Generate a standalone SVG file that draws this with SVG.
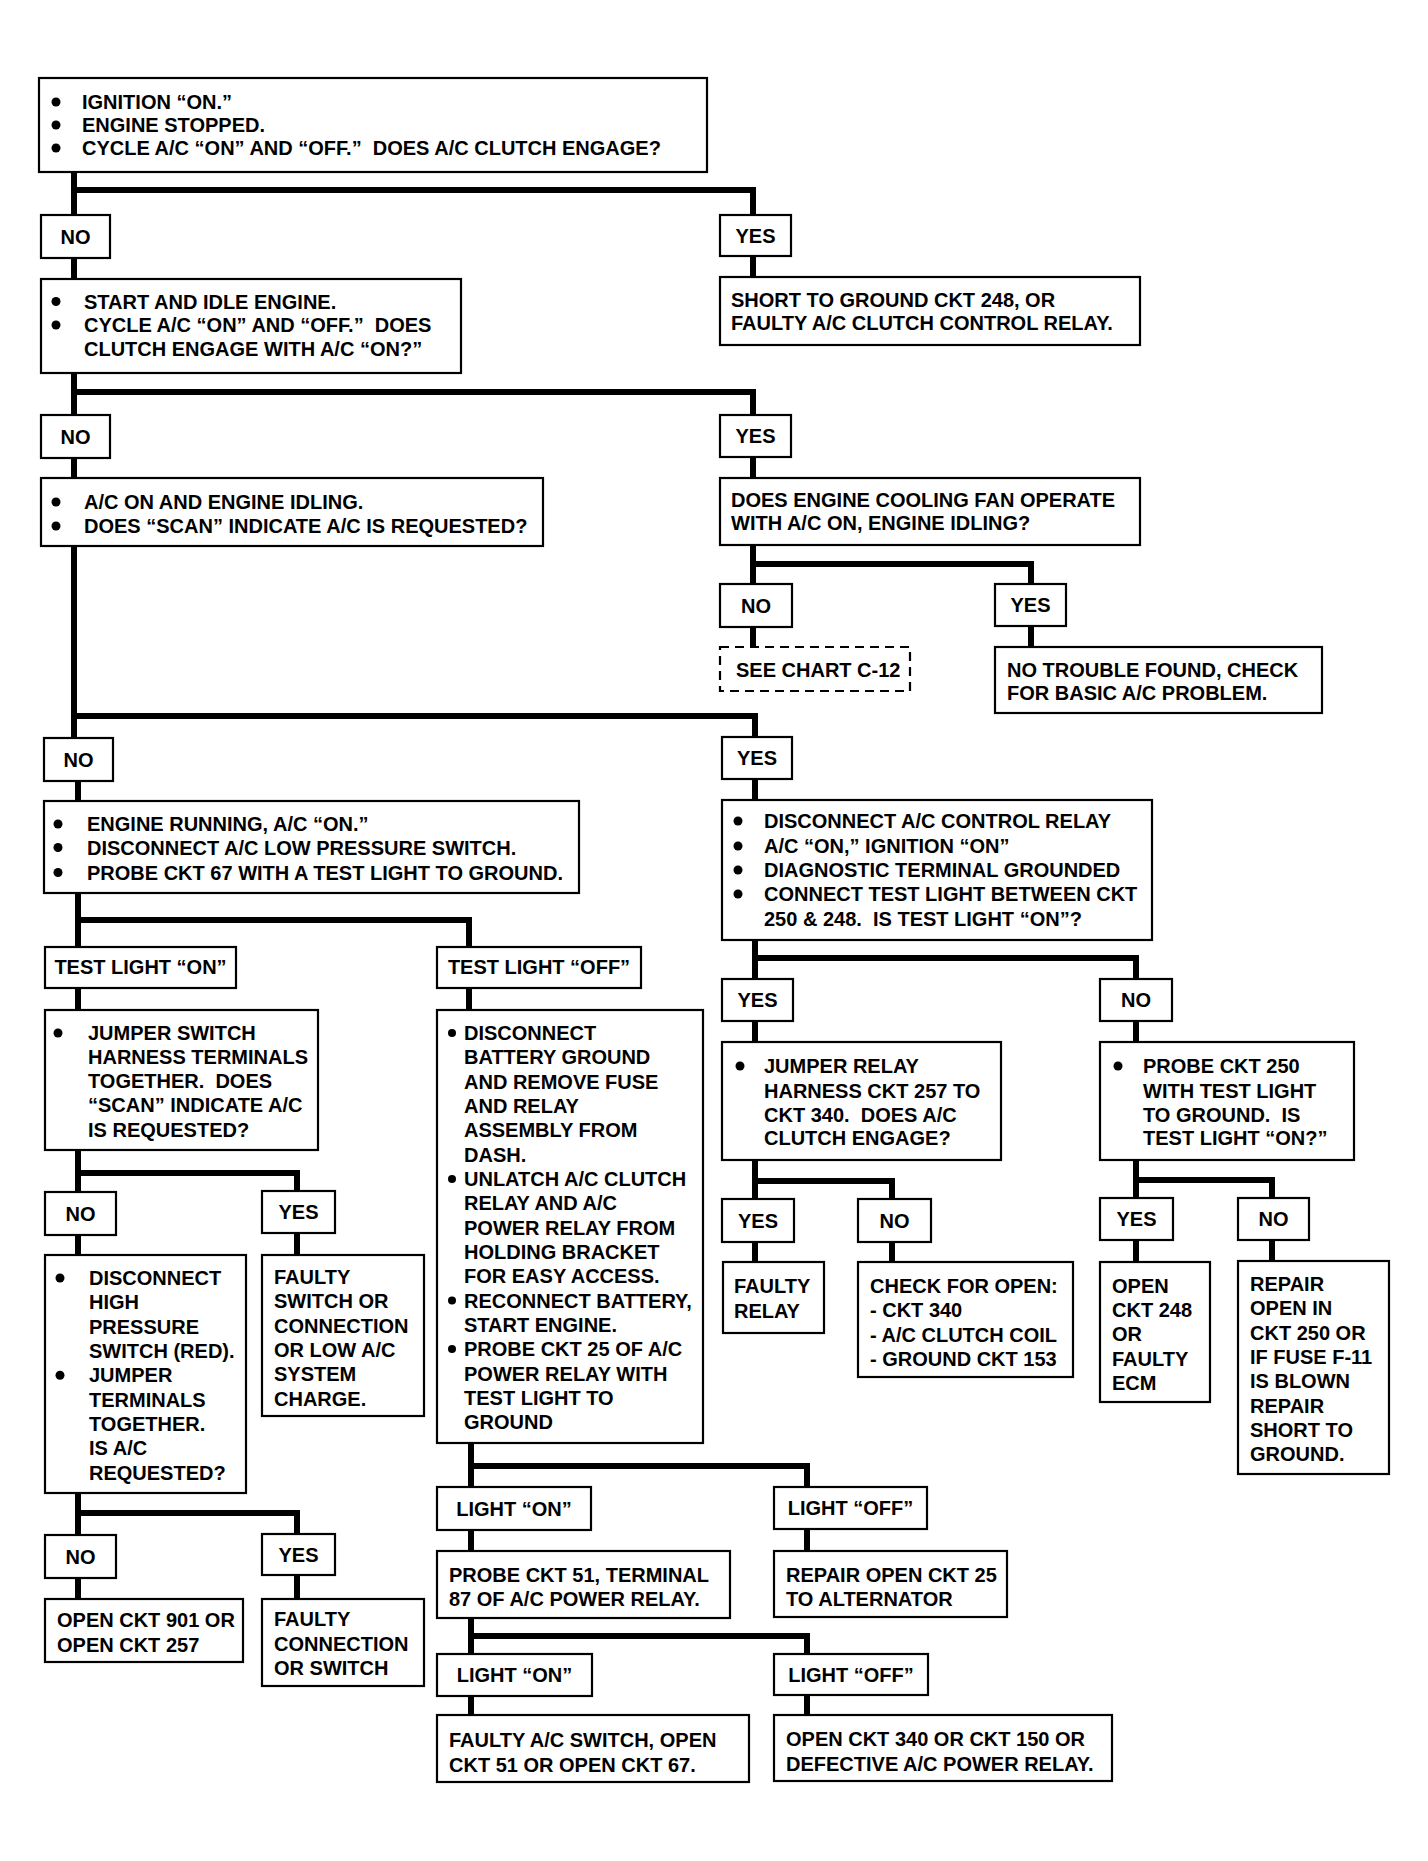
<svg xmlns="http://www.w3.org/2000/svg" width="1428" height="1861" viewBox="0 0 1428 1861">
<style>
.bg{fill:#fff}
.box{fill:#fff;stroke:#000;stroke-width:2.2}
.dash{fill:#fff;stroke:#000;stroke-width:2.2;stroke-dasharray:9 6}
.conn{fill:none;stroke:#000;stroke-width:6;stroke-linejoin:miter}
text{font-family:"Liberation Sans",Arial,sans-serif;font-weight:bold;font-size:20px;fill:#000;white-space:pre}
.c{text-anchor:middle}
.dot{fill:#000}
</style>
<rect class="bg" x="0" y="0" width="1428" height="1861"/>
<g id="connectors">
<path class="conn" d="M74,172 V215 M74,190 H753 V215"/>
<path class="conn" d="M74,258 V279 M753,256 V277"/>
<path class="conn" d="M74,373 V415 M74,392 H753 V415"/>
<path class="conn" d="M74,458 V478 M753,457 V478"/>
<path class="conn" d="M753,545 V584 M753,564 H1031 V584"/>
<path class="conn" d="M753,627 V647 M1031,626 V647"/>
<path class="conn" d="M74,546 V738 M74,716 H755 V737"/>
<path class="conn" d="M78,781 V801 M755,779 V800"/>
<path class="conn" d="M78,893 V947 M78,920 H469 V947"/>
<path class="conn" d="M78,988 V1010 M469,988 V1010"/>
<path class="conn" d="M78,1150 V1192 M78,1173 H297 V1191"/>
<path class="conn" d="M78,1235 V1255 M297,1233 V1255"/>
<path class="conn" d="M78,1493 V1535 M78,1513 H297 V1534"/>
<path class="conn" d="M78,1578 V1599 M297,1575 V1599"/>
<path class="conn" d="M471,1443 V1487 M471,1466 H807 V1487"/>
<path class="conn" d="M471,1530 V1551 M807,1529 V1551"/>
<path class="conn" d="M471,1618 V1654 M471,1636 H807 V1654"/>
<path class="conn" d="M471,1696 V1715 M807,1695 V1715"/>
<path class="conn" d="M755,940 V979 M755,958 H1136 V979"/>
<path class="conn" d="M755,1021 V1042 M1136,1021 V1042"/>
<path class="conn" d="M755,1160 V1199 M755,1181 H892 V1199"/>
<path class="conn" d="M755,1242 V1262 M892,1242 V1262"/>
<path class="conn" d="M1136,1160 V1198 M1136,1180 H1272 V1198"/>
<path class="conn" d="M1136,1240 V1262 M1272,1240 V1261"/>
</g>

<g id="n-start">
<rect class="box" x="39" y="78" width="668" height="94"/>
<circle class="dot" cx="56" cy="102" r="4.5"/><circle class="dot" cx="56" cy="125" r="4.5"/><circle class="dot" cx="56" cy="148" r="4.5"/>
<text><tspan x="82" y="109">IGNITION “ON.”</tspan><tspan x="82" y="132">ENGINE STOPPED.</tspan><tspan x="82" y="155">CYCLE A/C “ON” AND “OFF.”  DOES A/C CLUTCH ENGAGE?</tspan></text>
</g>
<g id="n-no1"><rect class="box" x="41" y="215" width="69" height="43"/><text class="c" x="75.5" y="243.5">NO</text></g>
<g id="n-yes1"><rect class="box" x="720" y="215" width="71" height="41"/><text class="c" x="755.5" y="242.5">YES</text></g>
<g id="n-idle">
<rect class="box" x="41" y="279" width="420" height="94"/>
<circle class="dot" cx="56" cy="301.5" r="4.5"/><circle class="dot" cx="56" cy="325" r="4.5"/>
<text><tspan x="84" y="308.5">START AND IDLE ENGINE.</tspan><tspan x="84" y="332">CYCLE A/C “ON” AND “OFF.”  DOES</tspan><tspan x="84" y="356">CLUTCH ENGAGE WITH A/C “ON?”</tspan></text>
</g>
<g id="n-short">
<rect class="box" x="720" y="277" width="420" height="68"/>
<text><tspan x="731" y="307">SHORT TO GROUND CKT 248, OR</tspan><tspan x="731" y="330">FAULTY A/C CLUTCH CONTROL RELAY.</tspan></text>
</g>
<g id="n-no2"><rect class="box" x="41" y="415" width="69" height="43"/><text class="c" x="75.5" y="443.5">NO</text></g>
<g id="n-yes2"><rect class="box" x="720" y="415" width="71" height="42"/><text class="c" x="755.5" y="443">YES</text></g>
<g id="n-scan">
<rect class="box" x="41" y="478" width="502" height="68"/>
<circle class="dot" cx="56" cy="502" r="4.5"/><circle class="dot" cx="56" cy="526" r="4.5"/>
<text><tspan x="84" y="509">A/C ON AND ENGINE IDLING.</tspan><tspan x="84" y="533">DOES “SCAN” INDICATE A/C IS REQUESTED?</tspan></text>
</g>
<g id="n-fan">
<rect class="box" x="720" y="478" width="420" height="67"/>
<text><tspan x="731" y="507">DOES ENGINE COOLING FAN OPERATE</tspan><tspan x="731" y="530">WITH A/C ON, ENGINE IDLING?</tspan></text>
</g>
<g id="n-no3"><rect class="box" x="720" y="584" width="72" height="43"/><text class="c" x="756" y="612.5">NO</text></g>
<g id="n-yes3"><rect class="box" x="995" y="584" width="71" height="42"/><text class="c" x="1030.5" y="612">YES</text></g>
<g id="n-c12"><rect class="dash" x="720" y="647" width="190" height="44"/><text x="736" y="677">SEE CHART C-12</text></g>
<g id="n-ntf">
<rect class="box" x="995" y="647" width="327" height="66"/>
<text><tspan x="1007" y="676.5">NO TROUBLE FOUND, CHECK</tspan><tspan x="1007" y="700">FOR BASIC A/C PROBLEM.</tspan></text>
</g>
<g id="n-no4"><rect class="box" x="44" y="738" width="69" height="43"/><text class="c" x="78.5" y="766.5">NO</text></g>
<g id="n-yes4"><rect class="box" x="722" y="737" width="70" height="42"/><text class="c" x="757" y="765">YES</text></g>
<g id="n-run">
<rect class="box" x="44" y="801" width="535" height="92"/>
<circle class="dot" cx="58" cy="824" r="4.5"/><circle class="dot" cx="58" cy="847.5" r="4.5"/><circle class="dot" cx="58" cy="872.5" r="4.5"/>
<text><tspan x="87" y="831">ENGINE RUNNING, A/C “ON.”</tspan><tspan x="87" y="854.5">DISCONNECT A/C LOW PRESSURE SWITCH.</tspan><tspan x="87" y="879.5">PROBE CKT 67 WITH A TEST LIGHT TO GROUND.</tspan></text>
</g>
<g id="n-relay">
<rect class="box" x="722" y="800" width="430" height="140"/>
<circle class="dot" cx="738" cy="821" r="4.5"/><circle class="dot" cx="738" cy="846" r="4.5"/><circle class="dot" cx="738" cy="870" r="4.5"/><circle class="dot" cx="738" cy="894" r="4.5"/>
<text><tspan x="764" y="828">DISCONNECT A/C CONTROL RELAY</tspan><tspan x="764" y="853">A/C “ON,” IGNITION “ON”</tspan><tspan x="764" y="877">DIAGNOSTIC TERMINAL GROUNDED</tspan><tspan x="764" y="901">CONNECT TEST LIGHT BETWEEN CKT</tspan><tspan x="764" y="926">250 &amp; 248.  IS TEST LIGHT “ON”?</tspan></text>
</g>
<g id="n-tlon"><rect class="box" x="45" y="947" width="191" height="41"/><text class="c" x="140.5" y="974">TEST LIGHT “ON”</text></g>
<g id="n-tloff"><rect class="box" x="437" y="947" width="204" height="41"/><text class="c" x="539" y="974">TEST LIGHT “OFF”</text></g>
<g id="n-jswitch">
<rect class="box" x="45" y="1010" width="273" height="140"/>
<circle class="dot" cx="58" cy="1033" r="4.5"/>
<text><tspan x="88" y="1040">JUMPER SWITCH</tspan><tspan x="88" y="1063.5">HARNESS TERMINALS</tspan><tspan x="88" y="1088">TOGETHER.  DOES</tspan><tspan x="88" y="1112">“SCAN” INDICATE A/C</tspan><tspan x="88" y="1137">IS REQUESTED?</tspan></text>
</g>
<g id="n-batt">
<rect class="box" x="437" y="1010" width="266" height="433"/>
<circle class="dot" cx="452" cy="1033" r="4"/><circle class="dot" cx="452" cy="1179" r="4"/><circle class="dot" cx="452" cy="1300.5" r="4"/><circle class="dot" cx="452" cy="1349" r="4"/>
<text><tspan x="464" y="1040">DISCONNECT</tspan><tspan x="464" y="1064.3">BATTERY GROUND</tspan><tspan x="464" y="1088.7">AND REMOVE FUSE</tspan><tspan x="464" y="1113">AND RELAY</tspan><tspan x="464" y="1137.3">ASSEMBLY FROM</tspan><tspan x="464" y="1161.7">DASH.</tspan><tspan x="464" y="1186">UNLATCH A/C CLUTCH</tspan><tspan x="464" y="1210.3">RELAY AND A/C</tspan><tspan x="464" y="1234.6">POWER RELAY FROM</tspan><tspan x="464" y="1259">HOLDING BRACKET</tspan><tspan x="464" y="1283.3">FOR EASY ACCESS.</tspan><tspan x="464" y="1307.6">RECONNECT BATTERY,</tspan><tspan x="464" y="1332">START ENGINE.</tspan><tspan x="464" y="1356.3">PROBE CKT 25 OF A/C</tspan><tspan x="464" y="1380.6">POWER RELAY WITH</tspan><tspan x="464" y="1405">TEST LIGHT TO</tspan><tspan x="464" y="1429.3">GROUND</tspan></text>
</g>
<g id="n-no5"><rect class="box" x="45" y="1192" width="71" height="43"/><text class="c" x="80.5" y="1220.5">NO</text></g>
<g id="n-yes5"><rect class="box" x="262" y="1191" width="73" height="42"/><text class="c" x="298.5" y="1219">YES</text></g>
<g id="n-high">
<rect class="box" x="45" y="1255" width="201" height="238"/>
<circle class="dot" cx="60" cy="1278" r="4.5"/><circle class="dot" cx="60" cy="1375.3" r="4.5"/>
<text><tspan x="89" y="1285">DISCONNECT</tspan><tspan x="89" y="1309.3">HIGH</tspan><tspan x="89" y="1333.7">PRESSURE</tspan><tspan x="89" y="1358">SWITCH (RED).</tspan><tspan x="89" y="1382.3">JUMPER</tspan><tspan x="89" y="1406.7">TERMINALS</tspan><tspan x="89" y="1431">TOGETHER.</tspan><tspan x="89" y="1455.3">IS A/C</tspan><tspan x="89" y="1479.6">REQUESTED?</tspan></text>
</g>
<g id="n-fswitch">
<rect class="box" x="262" y="1255" width="162" height="161"/>
<text><tspan x="274" y="1284">FAULTY</tspan><tspan x="274" y="1308.3">SWITCH OR</tspan><tspan x="274" y="1332.7">CONNECTION</tspan><tspan x="274" y="1357">OR LOW A/C</tspan><tspan x="274" y="1381.3">SYSTEM</tspan><tspan x="274" y="1405.6">CHARGE.</tspan></text>
</g>
<g id="n-no6"><rect class="box" x="45" y="1535" width="71" height="43"/><text class="c" x="80.5" y="1563.5">NO</text></g>
<g id="n-yes6"><rect class="box" x="262" y="1534" width="73" height="41"/><text class="c" x="298.5" y="1561.5">YES</text></g>
<g id="n-open901">
<rect class="box" x="45" y="1599" width="198" height="63"/>
<text><tspan x="57" y="1627">OPEN CKT 901 OR</tspan><tspan x="57" y="1652">OPEN CKT 257</tspan></text>
</g>
<g id="n-fconn">
<rect class="box" x="262" y="1599" width="162" height="87"/>
<text><tspan x="274" y="1626">FAULTY</tspan><tspan x="274" y="1651">CONNECTION</tspan><tspan x="274" y="1675">OR SWITCH</tspan></text>
</g>
<g id="n-lon1"><rect class="box" x="437" y="1487" width="154" height="43"/><text class="c" x="514" y="1515.5">LIGHT “ON”</text></g>
<g id="n-loff1"><rect class="box" x="774" y="1487" width="153" height="42"/><text class="c" x="850.5" y="1515">LIGHT “OFF”</text></g>
<g id="n-probe51">
<rect class="box" x="437" y="1551" width="293" height="67"/>
<text><tspan x="449" y="1582">PROBE CKT 51, TERMINAL</tspan><tspan x="449" y="1606">87 OF A/C POWER RELAY.</tspan></text>
</g>
<g id="n-repair25">
<rect class="box" x="774" y="1551" width="233" height="66"/>
<text><tspan x="786" y="1582">REPAIR OPEN CKT 25</tspan><tspan x="786" y="1606">TO ALTERNATOR</tspan></text>
</g>
<g id="n-lon2"><rect class="box" x="437" y="1654" width="155" height="42"/><text class="c" x="514.5" y="1682">LIGHT “ON”</text></g>
<g id="n-loff2"><rect class="box" x="774" y="1654" width="154" height="41"/><text class="c" x="851" y="1681.5">LIGHT “OFF”</text></g>
<g id="n-faultyac">
<rect class="box" x="437" y="1715" width="312" height="67"/>
<text><tspan x="449" y="1747">FAULTY A/C SWITCH, OPEN</tspan><tspan x="449" y="1772">CKT 51 OR OPEN CKT 67.</tspan></text>
</g>
<g id="n-open340">
<rect class="box" x="774" y="1715" width="338" height="66"/>
<text><tspan x="786" y="1746">OPEN CKT 340 OR CKT 150 OR</tspan><tspan x="786" y="1771">DEFECTIVE A/C POWER RELAY.</tspan></text>
</g>
<g id="n-yes7"><rect class="box" x="722" y="979" width="71" height="42"/><text class="c" x="757.5" y="1007">YES</text></g>
<g id="n-no7"><rect class="box" x="1100" y="979" width="72" height="42"/><text class="c" x="1136" y="1007">NO</text></g>
<g id="n-jrelay">
<rect class="box" x="722" y="1042" width="279" height="118"/>
<circle class="dot" cx="740" cy="1066" r="4.5"/>
<text><tspan x="764" y="1073">JUMPER RELAY</tspan><tspan x="764" y="1098">HARNESS CKT 257 TO</tspan><tspan x="764" y="1122">CKT 340.  DOES A/C</tspan><tspan x="764" y="1145">CLUTCH ENGAGE?</tspan></text>
</g>
<g id="n-probe250">
<rect class="box" x="1100" y="1042" width="254" height="118"/>
<circle class="dot" cx="1118" cy="1066" r="4.5"/>
<text><tspan x="1143" y="1073">PROBE CKT 250</tspan><tspan x="1143" y="1098">WITH TEST LIGHT</tspan><tspan x="1143" y="1122">TO GROUND.  IS</tspan><tspan x="1143" y="1145">TEST LIGHT “ON?”</tspan></text>
</g>
<g id="n-yes8"><rect class="box" x="722" y="1199" width="72" height="43"/><text class="c" x="758" y="1227.5">YES</text></g>
<g id="n-no8"><rect class="box" x="858" y="1199" width="73" height="43"/><text class="c" x="894.5" y="1227.5">NO</text></g>
<g id="n-frelay">
<rect class="box" x="723" y="1262" width="101" height="71"/>
<text><tspan x="734" y="1292.5">FAULTY</tspan><tspan x="734" y="1317.5">RELAY</tspan></text>
</g>
<g id="n-check">
<rect class="box" x="858" y="1262" width="215" height="115"/>
<text><tspan x="870" y="1292.5">CHECK FOR OPEN:</tspan><tspan x="870" y="1317">- CKT 340</tspan><tspan x="870" y="1341.5">- A/C CLUTCH COIL</tspan><tspan x="870" y="1366">- GROUND CKT 153</tspan></text>
</g>
<g id="n-yes9"><rect class="box" x="1100" y="1198" width="73" height="42"/><text class="c" x="1136.5" y="1226">YES</text></g>
<g id="n-no9"><rect class="box" x="1238" y="1198" width="71" height="42"/><text class="c" x="1273.5" y="1226">NO</text></g>
<g id="n-open248">
<rect class="box" x="1100" y="1262" width="110" height="140"/>
<text><tspan x="1112" y="1292.5">OPEN</tspan><tspan x="1112" y="1316.8">CKT 248</tspan><tspan x="1112" y="1341.2">OR</tspan><tspan x="1112" y="1365.5">FAULTY</tspan><tspan x="1112" y="1389.8">ECM</tspan></text>
</g>
<g id="n-repairin">
<rect class="box" x="1238" y="1261" width="151" height="213"/>
<text><tspan x="1250" y="1291">REPAIR</tspan><tspan x="1250" y="1315.3">OPEN IN</tspan><tspan x="1250" y="1339.7">CKT 250 OR</tspan><tspan x="1250" y="1364">IF FUSE F-11</tspan><tspan x="1250" y="1388.3">IS BLOWN</tspan><tspan x="1250" y="1412.6">REPAIR</tspan><tspan x="1250" y="1437">SHORT TO</tspan><tspan x="1250" y="1461.3">GROUND.</tspan></text>
</g>
</svg>
